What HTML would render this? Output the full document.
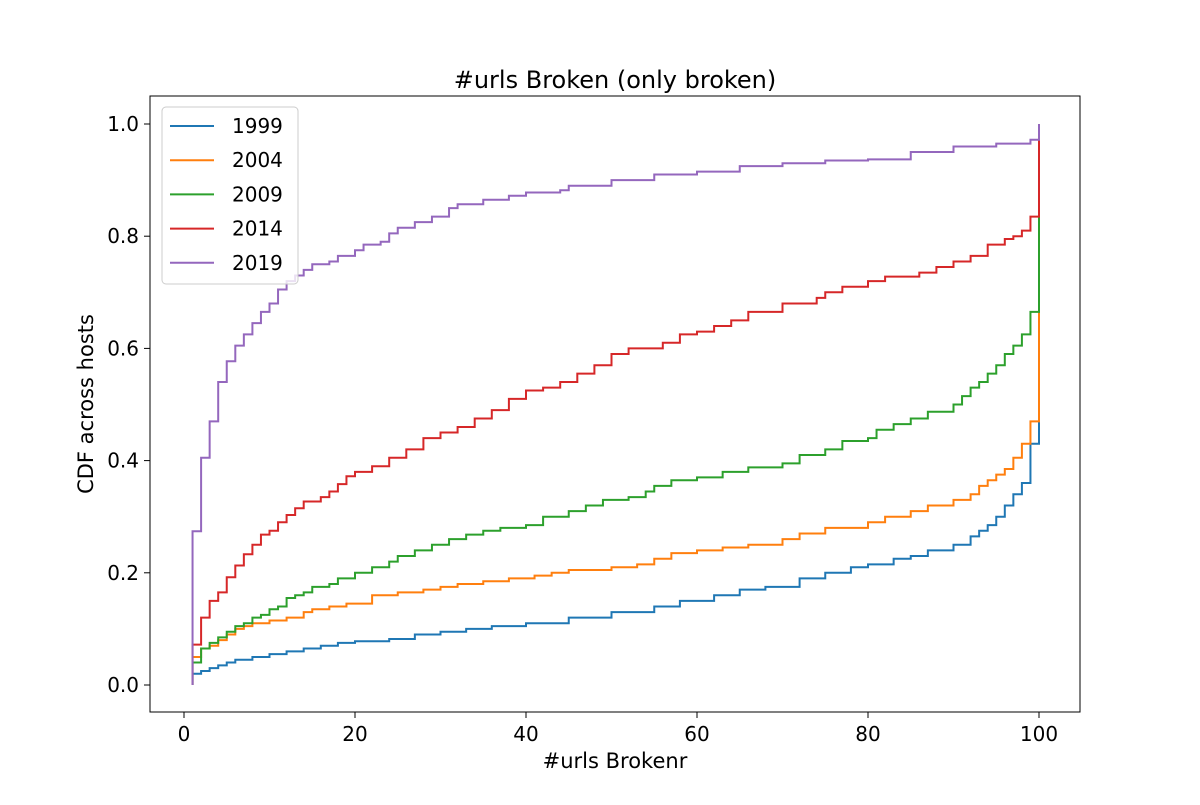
<!DOCTYPE html>
<html><head><meta charset="utf-8"><style>
body{margin:0;background:#fff;font-family:"Liberation Sans","DejaVu Sans",sans-serif}
</style></head><body>
<svg id="chart" width="1200" height="800" xmlns="http://www.w3.org/2000/svg" font-family="DejaVu Sans, Liberation Sans, sans-serif">
<rect width="1200" height="800" fill="#fff"/>
<text x="615" y="88" font-size="24" text-anchor="middle">#urls Broken (only broken)</text>
<g id="plot"></g>
<rect x="150" y="96" width="930" height="616" fill="none" stroke="#000" stroke-width="1"/>
<g id="xticks"></g><g id="yticks"></g>
<text x="615" y="768" font-size="21" text-anchor="middle">#urls Brokenr</text>
<text transform="translate(93,404) rotate(-90)" font-size="21" text-anchor="middle">CDF across hosts</text>
<g id="legend"></g>
</svg>
<script>
const seriesNames=["1999","2004","2009","2014","2019"];
const seriesColors=["#1f77b4","#ff7f0e","#2ca02c","#d62728","#9467bd"];
const x1999=[1,2,3,4,5,6,8,10,12,14,16,18,20,24,27,30,33,36,40,45,50,55,58,62,65,68,72,75,78,80,83,85,87,90,92,93,94,95,96,97,98,99,100];
const y1999=[0.02,0.025,0.03,0.035,0.04,0.045,0.05,0.055,0.06,0.065,0.07,0.075,0.078,0.082,0.09,0.095,0.1,0.105,0.11,0.12,0.13,0.14,0.15,0.16,0.17,0.175,0.19,0.2,0.21,0.215,0.225,0.23,0.24,0.25,0.265,0.275,0.285,0.3,0.32,0.34,0.36,0.43,1.0];
const x2004=[1,2,3,4,5,6,7,8,10,12,14,15,17,19,22,25,28,30,32,35,38,41,43,45,50,53,55,57,60,63,66,70,72,75,80,82,85,87,90,92,93,94,95,96,97,98,99,100];
const y2004=[0.05,0.065,0.07,0.08,0.09,0.1,0.105,0.11,0.115,0.12,0.13,0.135,0.14,0.145,0.16,0.165,0.17,0.175,0.18,0.185,0.19,0.195,0.2,0.205,0.21,0.215,0.225,0.235,0.24,0.245,0.25,0.26,0.27,0.28,0.29,0.3,0.31,0.32,0.33,0.34,0.355,0.365,0.375,0.385,0.405,0.43,0.47,1.0];
const x2009=[1,2,3,4,5,6,7,8,9,10,11,12,13,14,15,17,18,20,22,24,25,27,29,31,33,35,37,40,42,45,47,49,52,54,55,57,60,63,66,70,72,75,77,80,81,83,85,87,90,91,92,93,94,95,96,97,98,99,100];
const y2009=[0.04,0.065,0.075,0.085,0.095,0.105,0.11,0.12,0.125,0.135,0.14,0.155,0.16,0.165,0.175,0.18,0.19,0.2,0.21,0.22,0.23,0.24,0.25,0.26,0.268,0.275,0.28,0.285,0.3,0.31,0.32,0.33,0.335,0.345,0.355,0.365,0.37,0.38,0.388,0.395,0.41,0.42,0.435,0.44,0.455,0.465,0.475,0.487,0.5,0.515,0.53,0.54,0.555,0.57,0.59,0.605,0.625,0.665,1.0];
const x2014=[1,2,3,4,5,6,7,8,9,10,11,12,13,14,16,17,18,19,20,22,24,26,28,30,32,34,36,38,40,42,44,46,48,50,52,56,58,60,62,64,66,70,74,75,77,80,82,86,88,90,92,94,96,97,98,99,100];
const y2014=[0.072,0.12,0.15,0.165,0.192,0.213,0.233,0.25,0.268,0.275,0.29,0.303,0.315,0.327,0.335,0.345,0.358,0.372,0.38,0.39,0.405,0.42,0.44,0.45,0.46,0.475,0.49,0.51,0.525,0.53,0.54,0.555,0.57,0.59,0.6,0.61,0.625,0.63,0.64,0.65,0.665,0.68,0.69,0.7,0.71,0.72,0.728,0.735,0.745,0.755,0.765,0.785,0.795,0.8,0.81,0.835,1.0];
const x2019=[1,2,3,4,5,6,7,8,9,10,11,12,13,14,15,17,18,20,21,23,24,25,27,29,31,32,35,38,40,44,45,50,55,60,65,70,75,80,85,90,95,99,100];
const y2019=[0.274,0.405,0.47,0.54,0.577,0.605,0.625,0.645,0.665,0.68,0.705,0.72,0.73,0.74,0.75,0.755,0.765,0.775,0.785,0.79,0.805,0.815,0.825,0.835,0.85,0.857,0.865,0.872,0.878,0.882,0.89,0.9,0.91,0.915,0.925,0.93,0.935,0.937,0.95,0.96,0.965,0.972,1.0];
const xTicks=[0,20,40,60,80,100];
const yTicks=[0.0,0.2,0.4,0.6,0.8,1.0];
const xs=[x1999,x2004,x2009,x2014,x2019], ys=[y1999,y2004,y2009,y2014,y2019];
const X=v=>184+v*8.55, Y=v=>685-v*561;
const NS="http://www.w3.org/2000/svg";
function mk(t,a,p){const e=document.createElementNS(NS,t);for(const k in a)e.setAttribute(k,a[k]);p.appendChild(e);return e;}
const plot=document.getElementById('plot');
xs.forEach((xa,i)=>{
  let d="M"+X(xa[0])+","+Y(0);
  for(let j=0;j<xa.length;j++){
    d+=" L"+X(xa[j])+","+Y(j?ys[i][j-1]:0)+" L"+X(xa[j])+","+Y(ys[i][j]);
  }
  const p=mk('path',{d:d,fill:'none',stroke:seriesColors[i],'stroke-width':2},plot);
  
  
});
const xt=document.getElementById('xticks');
xTicks.forEach(v=>{
  const l=mk('line',{x1:X(v),x2:X(v),y1:712,y2:718,stroke:'#000'},xt);
  
  
  const t=mk('text',{x:X(v),y:741,'font-size':20,'text-anchor':'middle'},xt);t.textContent=v;
  
  
});
const yt=document.getElementById('yticks');
yTicks.forEach(v=>{
  const l=mk('line',{x1:144,x2:150,y1:Y(v),y2:Y(v),stroke:'#000'},yt);
  
  
  const t=mk('text',{x:139,y:Y(v)+7,'font-size':20,'text-anchor':'end'},yt);t.textContent=v.toFixed(1);
  
  
});
const lg=document.getElementById('legend');
const box=mk('rect',{x:162,y:107,width:136,height:177,rx:4,fill:'#fff','fill-opacity':0.8,stroke:'#ccc'},lg);


seriesNames.forEach((n,i)=>{
  const yy=126+i*34.2;
  const l=mk('line',{x1:170,x2:214,y1:yy,y2:yy,stroke:seriesColors[i],'stroke-width':2},lg);
  
  
  const t=mk('text',{x:232,y:yy+7,'font-size':20},lg);t.textContent=n;
  
  
});
</script>
</body></html>
